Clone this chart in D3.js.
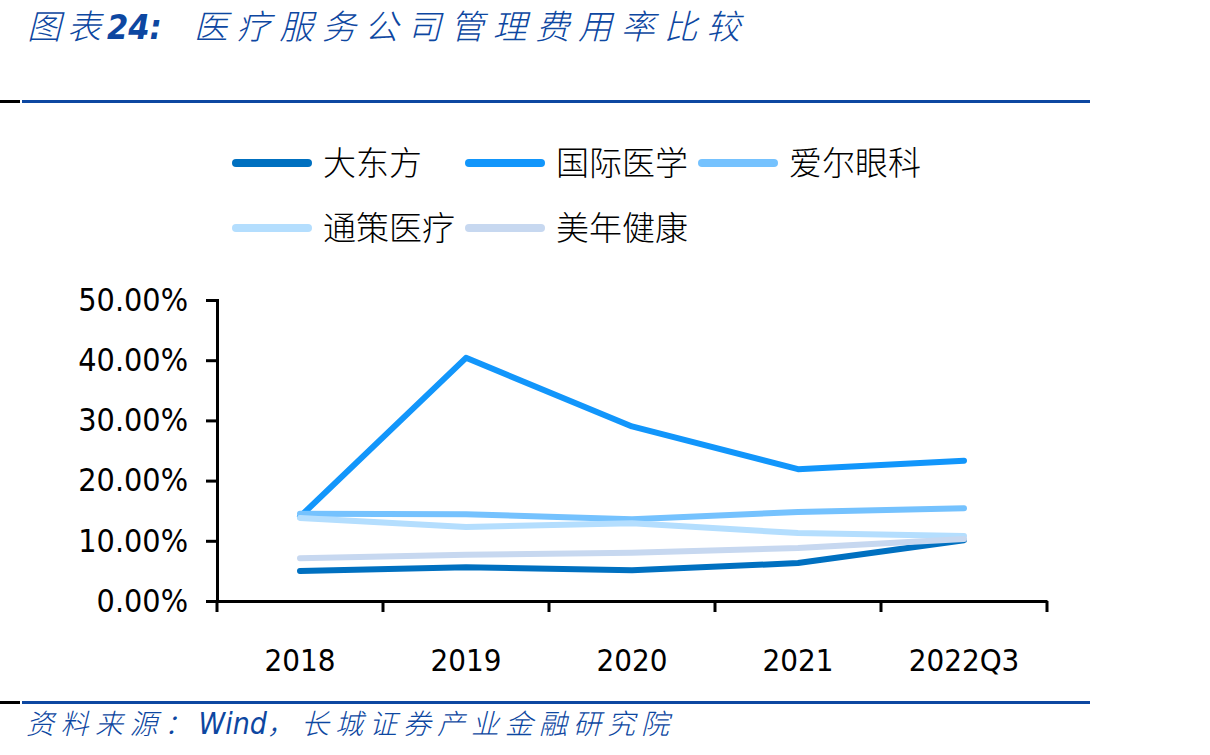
<!DOCTYPE html>
<html>
<head>
<meta charset="utf-8">
<script src="https://cdn.jsdelivr.net/npm/d3@7"></script>
<style>
  html, body { margin: 0; padding: 0; background: #fff; }
  svg { display: block; }
</style>
</head>
<body>
<div id="chart"></div>
<script>
// ── Data ─────────────────────────────────────────────────────────
const categories = ['2018', '2019', '2020', '2021', '2022Q3'];
const seriesNames = ['大东方', '国际医学', '爱尔眼科', '通策医疗', '美年健康'];
const dadongfang = [5.0, 5.6, 5.1, 6.3, 10.1];
const guojiyixue = [14.0, 40.4, 29.0, 21.9, 23.3];
const aiereyanke = [14.5, 14.4, 13.6, 14.8, 15.4];
const tongceyiliao = [13.8, 12.3, 12.9, 11.3, 10.8];
const meinianjiankang = [7.1, 7.7, 8.0, 8.8, 10.3];
const yTicks = [0, 10, 20, 30, 40, 50];

const seriesValues = [dadongfang, guojiyixue, aiereyanke, tongceyiliao, meinianjiankang];
const colors = ['#0070C0', '#1296FB', '#75C2FE', '#B4DEFE', '#C7D8F0'];

const W = 1210, H = 755;
const BLUE = '#0D47A1';
const CJK = '"Noto Sans CJK SC", "Noto Sans", sans-serif';
const NUM = '"DejaVu Sans Condensed", "DejaVu Sans", sans-serif';

const svg = d3.select('#chart').append('svg')
  .attr('width', W)
  .attr('height', H);

// ── Header / footer ──────────────────────────────────────────────
const title = svg.append('text')
  .attr('x', 27)
  .attr('y', 39)
  .attr('fill', BLUE)
  .attr('font-family', CJK)
  .attr('font-style', 'italic')
  .attr('font-weight', 300)
  .attr('font-size', 34);
title.append('tspan').attr('letter-spacing', 6).text('图表');
title.append('tspan').attr('font-family', NUM).attr('font-weight', 'bold').attr('letter-spacing', 0).text('24:');
title.append('tspan').attr('dx', 32).attr('letter-spacing', 8.7).text('医疗服务公司管理费用率比较');

function rule(y) {
  svg.append('rect').attr('x', 0).attr('y', y).attr('width', 20).attr('height', 3).attr('fill', '#000');
  svg.append('rect').attr('x', 22).attr('y', y).attr('width', 1068).attr('height', 3).attr('fill', BLUE);
}
rule(100);
rule(701);

const foot = svg.append('text')
  .attr('x', 26)
  .attr('y', 734)
  .attr('fill', BLUE)
  .attr('font-family', CJK)
  .attr('font-style', 'italic')
  .attr('font-weight', 300)
  .attr('font-size', 28);
foot.append('tspan').attr('letter-spacing', 6.5).text('资料来源：');
foot.append('tspan').attr('font-family', NUM).attr('font-size', 30).attr('letter-spacing', 0).text('Wind');
foot.append('tspan').attr('letter-spacing', 6).text('，长城证券产业金融研究院');

// ── Scales & axes ────────────────────────────────────────────────
const x = d3.scaleBand().domain(categories).range([217, 1047]);
const y = d3.scaleLinear().domain([0, 50]).range([601, 300]);

const xAxis = svg.append('g')
  .attr('transform', 'translate(0,601)')
  .call(d3.axisBottom(x).tickSize(0).tickPadding(48));
xAxis.select('.domain').attr('stroke', '#000').attr('stroke-width', 3);
xAxis.selectAll('text')
  .attr('font-family', NUM)
  .attr('font-size', 31)
  .attr('fill', '#000');

// ticks between bands
svg.append('g').selectAll('line')
  .data(categories.concat(['end']))
  .join('line')
  .attr('x1', (d, i) => i < categories.length ? x(d) : x.range()[1])
  .attr('x2', (d, i) => i < categories.length ? x(d) : x.range()[1])
  .attr('y1', 601)
  .attr('y2', 612)
  .attr('stroke', '#000')
  .attr('stroke-width', 3);

const yAxis = svg.append('g')
  .attr('transform', 'translate(217,0)')
  .call(d3.axisLeft(y).tickValues(yTicks).tickSize(11).tickPadding(18)
    .tickFormat(d => d.toFixed(2) + '%'));
yAxis.select('.domain').attr('stroke', '#000').attr('stroke-width', 3);
yAxis.selectAll('.tick line').attr('stroke', '#000').attr('stroke-width', 3);
yAxis.selectAll('text')
  .attr('font-family', NUM)
  .attr('font-size', 32)
  .attr('fill', '#000');

// ── Lines ────────────────────────────────────────────────────────
const line = d3.line()
  .x((d, i) => x(categories[i]) + x.bandwidth() / 2)
  .y(d => y(d));

svg.append('g').selectAll('path')
  .data(seriesValues)
  .join('path')
  .attr('d', d => line(d))
  .attr('fill', 'none')
  .attr('stroke', (d, i) => colors[i])
  .attr('stroke-width', 6)
  .attr('stroke-linejoin', 'round')
  .attr('stroke-linecap', 'round');

// ── Legend ───────────────────────────────────────────────────────
const legend = svg.append('g').selectAll('g')
  .data(seriesNames)
  .join('g')
  .attr('transform', (d, i) => `translate(${232 + (i % 3) * 233},${163 + Math.floor(i / 3) * 65})`);

legend.append('line')
  .attr('x1', 4).attr('x2', 76)
  .attr('y1', 0).attr('y2', 0)
  .attr('stroke', (d, i) => colors[i])
  .attr('stroke-width', 8)
  .attr('stroke-linecap', 'round');

legend.append('text')
  .attr('x', 91)
  .attr('y', 0)
  .attr('dy', '0.36em')
  .attr('font-family', CJK)
  .attr('font-weight', 300)
  .attr('font-size', 33)
  .attr('fill', '#000')
  .text(d => d);
</script>
</body>
</html>
